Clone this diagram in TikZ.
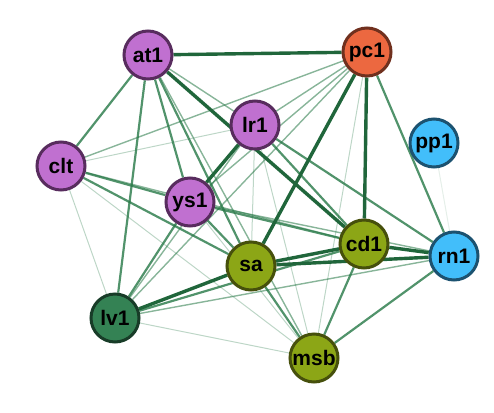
\documentclass[tikz,border=0pt]{standalone}
\usepackage{fontspec}
\setsansfont{Liberation Sans}
\usetikzlibrary{backgrounds}
\definecolor{egreen}{RGB}{38,120,70}
\definecolor{cpurple}{RGB}{192,112,208}
\definecolor{bpurple}{RGB}{88,44,94}
\definecolor{corange}{RGB}{236,104,64}
\definecolor{borange}{RGB}{112,48,30}
\definecolor{cblue}{RGB}{66,190,250}
\definecolor{bblue}{RGB}{28,82,112}
\definecolor{colive}{RGB}{140,166,22}
\definecolor{bolive}{RGB}{70,80,12}
\definecolor{cdgreen}{RGB}{52,130,84}
\definecolor{bdgreen}{RGB}{24,60,40}

\begin{document}
\begin{tikzpicture}[x=1pt, y=-1pt,
    gnode/.style={circle, draw, line width=3pt, minimum size=48pt, inner sep=0pt,
                  font=\sffamily\bfseries\fontsize{21}{23}\selectfont},
    ethick/.style={egreen!85!black, line width=3.4pt},
    emid/.style={egreen, opacity=.8, line width=2.2pt},
    ethin/.style={egreen, opacity=.55, line width=1.4pt},
    efaint/.style={egreen, opacity=.3, line width=1pt}]
        \useasboundingbox (0,0) rectangle (494,412);
        % nodes
        \node[gnode, fill=cpurple, draw=bpurple] (at1) at (148,55) {at1};
        \node[gnode, fill=corange, draw=borange] (pc1) at (367,52) {pc1};
        \node[gnode, fill=cpurple, draw=bpurple] (lr1) at (255,125) {lr1};
        \node[gnode, fill=cblue, draw=bblue] (pp1) at (434,143) {pp1};
        \node[gnode, fill=cpurple, draw=bpurple] (clt) at (61,166) {clt};
        \node[gnode, fill=cpurple, draw=bpurple] (ys1) at (190,202) {ys1};
        \node[gnode, fill=colive, draw=bolive] (sa) at (251,266) {sa};
        \node[gnode, fill=colive, draw=bolive] (cd1) at (364,244) {cd1};
        \node[gnode, fill=cblue, draw=bblue] (rn1) at (454,256) {rn1};
        \node[gnode, fill=cdgreen, draw=bdgreen] (lv1) at (115,318) {lv1};
        \node[gnode, fill=colive, draw=bolive] (msb) at (314,358) {msb};
        % edges
        \begin{scope}[on background layer]
          \foreach \a/\b in {pc1/clt, pc1/ys1, pc1/lv1, pc1/lr1, at1/lr1, at1/msb,
                             lr1/lv1, clt/cd1, ys1/rn1, rn1/lv1}
            \draw[ethin] (\a) -- (\b);
          \foreach \a/\b in {pc1/msb, lr1/sa, lr1/msb, clt/lv1, clt/msb, ys1/msb,
                             lv1/msb, clt/lr1}
            \draw[efaint] (\a) -- (\b);
          \draw[efaint, opacity=.12] (pp1) -- (rn1);
          \foreach \a/\b in {at1/clt, at1/lv1, at1/ys1, at1/sa, pc1/rn1, lr1/cd1,
                             lr1/rn1, clt/ys1, clt/sa, ys1/sa, ys1/cd1, sa/msb,
                             cd1/lv1, cd1/msb, rn1/msb, ys1/lv1}
            \draw[emid] (\a) -- (\b);
          \foreach \a/\b in {at1/pc1, at1/cd1, pc1/sa, pc1/cd1, lr1/ys1, sa/cd1,
                             sa/rn1, sa/lv1, cd1/rn1}
            \draw[ethick] (\a) -- (\b);
        \end{scope}
      \end{tikzpicture}
\end{document}
